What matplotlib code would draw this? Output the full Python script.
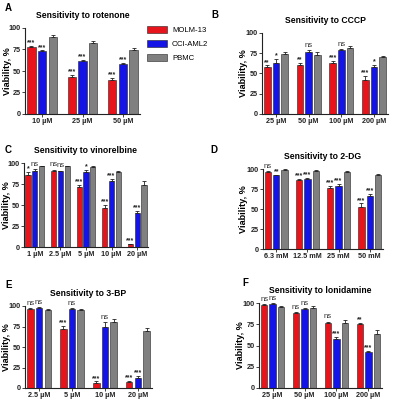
import matplotlib
matplotlib.use("Agg")
import matplotlib.pyplot as plt
from matplotlib.patches import Patch
import numpy as np

plt.rcParams['font.family'] = ['Liberation Sans', 'DejaVu Sans']

series = ["MOLM-13", "OCI-AML2", "PBMC"]
colors = ["#e8141c", "#1414e6", "#808080"]

titles = ["Sensitivity to rotenone", "Sensitivity to CCCP", "Sensitivity to vinorelbine",
          "Sensitivity to 2-DG", "Sensitivity to 3-BP", "Sensitivity to lonidamine"]
letters = ["A", "B", "C", "D", "E", "F"]

cats_A = ["10 µM", "25 µM", "50 µM"]
molm_A = [78, 43, 40]
oci_A = [73, 62, 58]
pbmc_A = [90, 82, 74]
err_molm_A = [1, 2, 2]
err_oci_A = [1, 1, 1]
err_pbmc_A = [2, 3, 3]
sig_molm_A = ["***", "***", "***"]
sig_oci_A = ["***", "***", "***"]

cats_B = ["25 µM", "50 µM", "100 µM", "200 µM"]
molm_B = [58, 60, 63, 42]
oci_B = [63, 76, 79, 58]
pbmc_B = [74, 73, 81, 70]
err_molm_B = [2, 3, 3, 5]
err_oci_B = [5, 3, 1, 3]
err_pbmc_B = [2, 3, 3, 1]
sig_molm_B = ["**", "**", "***", "***"]
sig_oci_B = ["*", "ns", "ns", "*"]

cats_C = ["1 µM", "2.5 µM", "5 µM", "10 µM", "20 µM"]
molm_C = [86, 91, 71, 46, 3]
oci_C = [91, 90, 89, 78, 41]
pbmc_C = [96, 96, 95, 89, 74]
err_molm_C = [3, 1, 3, 4, 1]
err_oci_C = [2, 1, 3, 3, 2]
err_pbmc_C = [1, 1, 1, 2, 4]
sig_molm_C = ["*", "ns", "***", "***", "***"]
sig_oci_C = ["ns", "ns", "*", "***", "***"]

cats_D = ["6.3 mM", "12.5 mM", "25 mM", "50 mM"]
molm_D = [96, 86, 76, 53]
oci_D = [92, 87, 79, 66]
pbmc_D = [99, 98, 96, 93]
err_molm_D = [1, 2, 3, 4]
err_oci_D = [1, 2, 2, 3]
err_pbmc_D = [1, 1, 1, 1]
sig_molm_D = ["ns", "***", "***", "***"]
sig_oci_D = ["**", "***", "***", "***"]

cats_E = ["2.5 µM", "5 µM", "10 µM", "20 µM"]
molm_E = [96, 72, 6, 7]
oci_E = [98, 96, 74, 12]
pbmc_E = [95, 95, 81, 69]
err_molm_E = [1, 4, 2, 2]
err_oci_E = [1, 1, 6, 3]
err_pbmc_E = [1, 1, 3, 4]
sig_molm_E = ["ns", "***", "***", "***"]
sig_oci_E = ["ns", "ns", "ns", "***"]

cats_F = ["25 µM", "50 µM", "100 µM", "200 µM"]
molm_F = [98, 88, 76, 75]
oci_F = [99, 93, 58, 42]
pbmc_F = [95, 94, 76, 63]
err_molm_F = [1, 1, 2, 2]
err_oci_F = [1, 1, 2, 2]
err_pbmc_F = [1, 2, 4, 5]
sig_molm_F = ["ns", "ns", "ns", "**"]
sig_oci_F = ["ns", "ns", "***", "***"]

panels = [
    (cats_A, [molm_A, oci_A, pbmc_A], [err_molm_A, err_oci_A, err_pbmc_A], [sig_molm_A, sig_oci_A]),
    (cats_B, [molm_B, oci_B, pbmc_B], [err_molm_B, err_oci_B, err_pbmc_B], [sig_molm_B, sig_oci_B]),
    (cats_C, [molm_C, oci_C, pbmc_C], [err_molm_C, err_oci_C, err_pbmc_C], [sig_molm_C, sig_oci_C]),
    (cats_D, [molm_D, oci_D, pbmc_D], [err_molm_D, err_oci_D, err_pbmc_D], [sig_molm_D, sig_oci_D]),
    (cats_E, [molm_E, oci_E, pbmc_E], [err_molm_E, err_oci_E, err_pbmc_E], [sig_molm_E, sig_oci_E]),
    (cats_F, [molm_F, oci_F, pbmc_F], [err_molm_F, err_oci_F, err_pbmc_F], [sig_molm_F, sig_oci_F]),
]

W, H = 393, 400
# axes boxes in pixels: left, right, top, bottom
boxes = [
    (25, 140, 28, 114),
    (262, 388, 33, 114),
    (24, 148, 163, 247),
    (263, 383, 169, 249),
    (25, 152, 306, 388),
    (259, 382, 303, 388),
]
# right edge (px) of the rotated y label
ylabel_x = [12, 248, 11, 248, 11, 245]
letter_pos = [(5, 8), (211, 15), (5, 150), (210, 150), (5, 285), (242, 283)]

fig = plt.figure(figsize=(W / 100, H / 100), dpi=100)

G = 3.75
bw = 0.76
for k, (cats, vals, errs, sigs) in enumerate(panels):
    l, r, t, b = boxes[k]
    ax = fig.add_axes([l / W, 1 - b / H, (r - l) / W, (b - t) / H])
    n = len(cats)
    centers = np.arange(n) * G
    for j in range(3):
        x = centers + (j - 1)
        ax.bar(x, vals[j], width=bw, color=colors[j], edgecolor="#222222", linewidth=0.4, zorder=2)
        e = np.array(errs[j])
        ax.errorbar(x, vals[j], yerr=[np.zeros(n), e], fmt="none", ecolor="#222222",
                    elinewidth=0.6, capsize=1.3, capthick=0.6, zorder=3, clip_on=False)
        if j < 2:
            for i in range(n):
                s = sigs[j][i]
                y = vals[j][i] + errs[j][i] + 1.5
                if s == "ns":
                    ax.text(x[i], y, s, ha="center", va="bottom", fontsize=5.6, color="#333333", clip_on=False)
                else:
                    ax.text(x[i], y - 2, s, ha="center", va="bottom", fontsize=5.0, fontweight="bold",
                            color="#222222", clip_on=False)
    ax.set_xlim(-1.6, (n - 1) * G + 1.6)
    ax.set_ylim(0, 100)
    ax.set_yticks([0, 25, 50, 75, 100])
    ax.set_xticks(centers)
    ax.set_xticklabels(cats)
    ax.tick_params(axis="both", labelsize=5.2, length=2, width=0.6, pad=1.2, colors="#222222")
    for lab in ax.get_xticklabels() + ax.get_yticklabels():
        lab.set_fontweight("bold")
    for sp in ["top", "right"]:
        ax.spines[sp].set_visible(False)
    for sp in ["left", "bottom"]:
        ax.spines[sp].set_linewidth(0.8)
        ax.spines[sp].set_color("#222222")
    ax.set_ylabel("Viability, %", fontsize=6.6, fontweight="bold")
    ax.yaxis.set_label_coords((ylabel_x[k] - l) / (r - l), 0.5)
    ax.set_title(titles[k], fontsize=6.2, fontweight="bold", pad=7)
    lx, ly = letter_pos[k]
    fig.text(lx / W, 1 - ly / H, letters[k], fontsize=7, fontweight="bold", va="center", ha="left")

handles = [Patch(facecolor=c, edgecolor="#222222", linewidth=0.4) for c in colors]
fig.legend(handles, series, loc="upper left", bbox_to_anchor=(140 / W, 1 - 19 / H), frameon=False,
           fontsize=5.6, handlelength=2.6, handleheight=1.0, labelspacing=0.75, handletextpad=0.6)

fig.savefig("out.png", dpi=100)
